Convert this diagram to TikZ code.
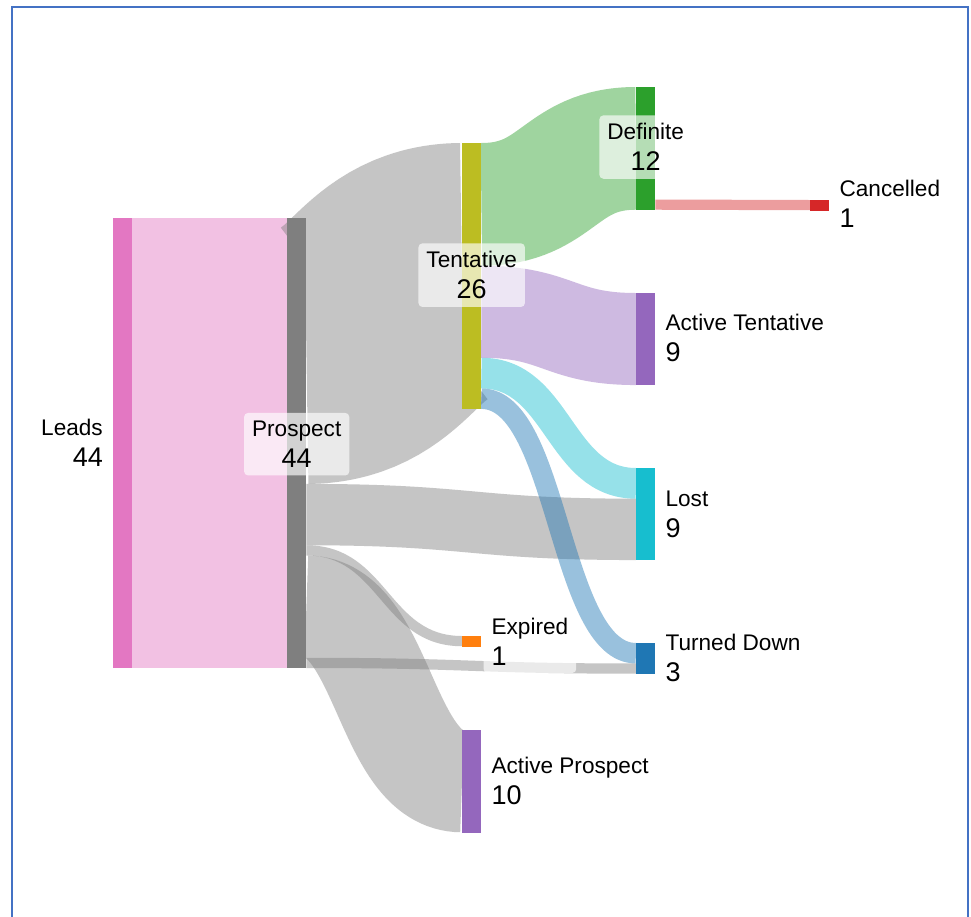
\documentclass[tikz,border=0pt]{standalone}
\usepackage{fontspec}
\setmainfont{Liberation Sans}
\usetikzlibrary{calc}
\definecolor{cLeads}{HTML}{E377C2}
\definecolor{cProspect}{HTML}{7F7F7F}
\definecolor{cTent}{HTML}{BCBD22}
\definecolor{cDef}{HTML}{2CA02C}
\definecolor{cCancel}{HTML}{D62728}
\definecolor{cPurple}{HTML}{9467BD}
\definecolor{cLost}{HTML}{17BECF}
\definecolor{cTurned}{HTML}{1F77B4}
\definecolor{cExpired}{HTML}{FF7F0E}
\definecolor{cBorder}{HTML}{4472C4}
\def\skunit{10.227pt}
\newcommand{\numf}{\fontsize{27}{31}\selectfont}
% source, source offset, target, target offset, units, colour
\newcommand{\sklink}[6]{%
  \draw[skflow, draw=#6, line width={#5*\skunit}] let \p1=(#1.north east), \p2=(#3.north west), \n1={(\x1+\x2)/2} in
    (\x1,{\y1-(#2+#5/2)*\skunit}) .. controls ({\n1*1pt},{\y1-(#2+#5/2)*\skunit}) and ({\n1*1pt},{\y2-(#4+#5/2)*\skunit}) .. (\x2,{\y2-(#4+#5/2)*\skunit});}
\begin{document}
\begin{tikzpicture}[x=1pt,y=-1pt,
  skbar/.style={draw=none, inner sep=0pt, minimum width=19pt, anchor=north west},
  skflow/.style={draw opacity=0.45, line cap=butt},
  sklbl/.style={fill=white, fill opacity=0.65, text opacity=1, rounded corners=4pt,
    inner xsep=8pt, inner ysep=8pt, font=\fontsize{22.6}{31}\selectfont},
  border/.style={draw=cBorder, line width=2pt}]
\useasboundingbox (0,0) rectangle (971,916);
\fill[white] (0,0) rectangle (971,916);
\draw[border] (12,930) -- (12,7) -- (968,7) -- (968,930);

% nodes (bars)
\node[skbar, fill=cLeads, minimum height={44*\skunit}] (leads) at (113,218) {};
\node[skbar, fill=cProspect, minimum height={44*\skunit}] (prospect) at (287,218) {};
\node[skbar, fill=cTent, minimum height={26*\skunit}] (tent) at (462,143) {};
\node[skbar, fill=cExpired, minimum height={1*\skunit}] (expired) at (462,636) {};
\node[skbar, fill=cPurple, minimum height={10*\skunit}] (actpro) at (462,730) {};
\node[skbar, fill=cDef, minimum height={12*\skunit}] (definite) at (636,87) {};
\node[skbar, fill=cPurple, minimum height={9*\skunit}] (acttent) at (636,293) {};
\node[skbar, fill=cLost, minimum height={9*\skunit}] (lost) at (636,468) {};
\node[skbar, fill=cTurned, minimum height={3*\skunit}] (turned) at (636,643) {};
\node[skbar, fill=cCancel, minimum height={1*\skunit}] (cancel) at (810,200) {};

% links
\sklink{leads}{0}{prospect}{0}{44}{cLeads}
\sklink{prospect}{0}{tent}{0}{26}{cProspect}
\sklink{prospect}{26}{lost}{3}{6}{cProspect}
\sklink{prospect}{32}{expired}{0}{1}{cProspect}
\sklink{prospect}{33}{actpro}{0}{10}{cProspect}
\sklink{prospect}{43}{turned}{2}{1}{cProspect}
\sklink{tent}{0}{definite}{0}{12}{cDef}
\sklink{tent}{12}{acttent}{0}{9}{cPurple}
\sklink{tent}{21}{lost}{0}{3}{cLost}
\sklink{tent}{24}{turned}{0}{2}{cTurned}
\sklink{definite}{11}{cancel}{0}{1}{cCancel}

% redraw bars on top of links
\foreach \n/\c in {leads/cLeads, prospect/cProspect, tent/cTent, expired/cExpired, actpro/cPurple,
  definite/cDef, acttent/cPurple, lost/cLost, turned/cTurned, cancel/cCancel}
  \fill[\c] (\n.north west) rectangle (\n.south east);

% labels
\node[sklbl, align=right, anchor=east] (leadslbl) at ([xshift=-2pt]leads.west) {Leads\\\numf 44};
\node[sklbl, align=center] (prolbl) at ([yshift=-1pt]prospect.center) {Prospect\\\numf 44};
\node[sklbl, align=center] (tentlbl) at ([yshift=1pt]tent.center) {Tentative\\\numf 26};
\node[sklbl, align=center] (deflbl) at ([yshift=1.5pt]definite.center) {Definite\\\numf 12};
\node[sklbl, align=left, anchor=west] (cancellbl) at ([xshift=2pt,yshift=1.5pt]cancel.east) {Cancelled\\\numf 1};
\node[sklbl, align=left, anchor=west] (acttentlbl) at ([xshift=2pt,yshift=1pt]acttent.east) {Active Tentative\\\numf 9};
\node[sklbl, align=left, anchor=west] (lostlbl) at ([xshift=2pt]lost.east) {Lost\\\numf 9};
\node[sklbl, align=left, anchor=west] (turnedlbl) at ([xshift=2pt,yshift=1pt]turned.east) {Turned Down\\\numf 3};
\node[sklbl, align=left, anchor=west] (expiredlbl) at ([xshift=2pt]expired.east) {Expired\\\numf 1};
\node[sklbl, align=left, anchor=west] (actprolbl) at ([xshift=2pt]actpro.east) {Active Prospect\\\numf 10};
\end{tikzpicture}
\end{document}
